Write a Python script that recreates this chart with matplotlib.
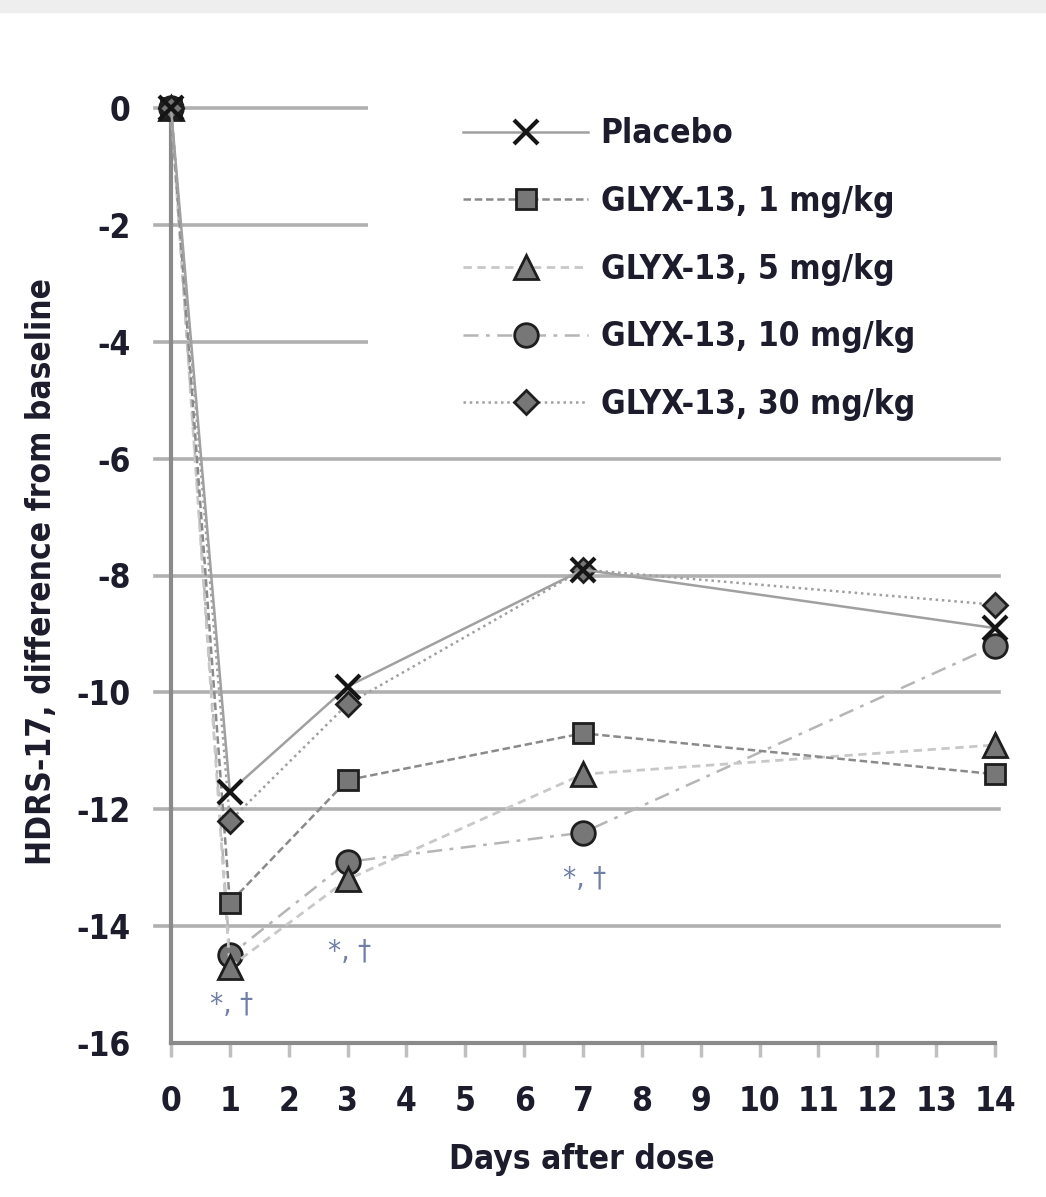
"""HDRS-17 change from baseline after a single GLYX-13 dose."""

import matplotlib
matplotlib.use("Agg")
import matplotlib.pyplot as plt
from matplotlib.patches import Rectangle

days = [0, 1, 3, 7, 14]
placebo = [0, -11.7, -9.9, -7.9, -8.9]
glyx_1 = [0, -13.6, -11.5, -10.7, -11.4]
glyx_5 = [0, -14.7, -13.2, -11.4, -10.9]
glyx_10 = [0, -14.5, -12.9, -12.4, -9.2]
glyx_30 = [0, -12.2, -10.2, -7.9, -8.5]

labels = ["Placebo", "GLYX-13, 1 mg/kg", "GLYX-13, 5 mg/kg",
          "GLYX-13, 10 mg/kg", "GLYX-13, 30 mg/kg"]

sig_days = [1, 3, 7]
sig_y = [-15.35, -14.45, -13.2]
sig_text = "*, \u2020"

x_ticks = list(range(0, 15))
y_ticks = list(range(-16, 1, 2))

FONT = ["DejaVu Sans"]
TXT = "#1c1c2c"
FS = 24
plt.rcParams["font.family"] = FONT
plt.rcParams["font.stretch"] = "condensed"

fig = plt.figure(figsize=(10.46, 11.97), dpi=100)
ax = fig.add_axes([171 / 1046, 1 - 1043 / 1197, 824 / 1046, 935 / 1197])

# grey band at the very top of the page
fig.patches.append(Rectangle((0, 1 - 12 / 1197), 1, 12 / 1197,
                             transform=fig.transFigure, color="#eeeeee", zorder=0))

ax.set_xlim(0, 14)
ax.set_ylim(-16, 0)
for y in y_ticks:
    if y != -16:
        ax.axhline(y, xmin=-0.02, xmax=1.005, color="#b0b0b0", lw=2.6, zorder=1, clip_on=False)

# white block behind the legend hides the upper gridlines
ax.add_patch(Rectangle((3.35, -5.1), 12, 5.6, facecolor="white", edgecolor="none",
                       zorder=2, clip_on=False))

mk = dict(markerfacecolor="#777777", markeredgecolor="#1e1e1e", markeredgewidth=2,
          clip_on=False, zorder=4)
ax.plot(days, glyx_10, color="#b5b5b5", lw=1.8, ls=(0, (6, 3, 1.5, 3)), marker="o", ms=17, label=labels[3], **mk)
ax.plot(days, glyx_5, color="#c8c8c8", lw=2, ls=(0, (3, 2)), marker="^", ms=17, label=labels[2], **mk)
ax.plot(days, glyx_1, color="#8a8a8a", lw=1.8, ls=(0, (3, 1.5)), marker="s", ms=15, label=labels[1], **mk)
ax.plot(days, glyx_30, color="#a0a0a0", lw=1.8, ls=(0, (1, 1.5)), marker="D", ms=12, label=labels[4], **mk)
ax.plot(days, placebo, color="#a0a0a0", lw=1.8, ls="-", marker="x", ms=17,
        markeredgecolor="#151515", markeredgewidth=3, clip_on=False, zorder=5, label=labels[0])

for d, y in zip(sig_days, sig_y):
    ax.text(d + 0.03, y, sig_text, ha="center", va="center", fontsize=21,
            color="#6f7fa6")

handles, lbls = ax.get_legend_handles_labels()
order = [lbls.index(l) for l in labels]
leg = ax.legend([handles[i] for i in order], labels, loc="upper left",
                bbox_to_anchor=(0.318, 1.022), frameon=False,
                handlelength=3.75, handletextpad=0.38, labelspacing=1.04,
                prop=dict(family=FONT, weight="bold", size=FS, stretch="condensed"))
for t in leg.get_texts():
    t.set_color(TXT)
leg.set_zorder(6)

for side in ["top", "right"]:
    ax.spines[side].set_visible(False)
for side in ["left", "bottom"]:
    ax.spines[side].set_color("#8a8a8a")
    ax.spines[side].set_linewidth(3)
    ax.spines[side].set_zorder(3)

ax.set_xticks(x_ticks)
ax.set_yticks(y_ticks)
ax.set_yticklabels([str(v) for v in y_ticks])
ax.tick_params(axis="x", length=10, width=2.5, color="#c0c0c0", pad=20,
               labelsize=FS, labelcolor=TXT)
ax.tick_params(axis="y", length=0, pad=29, labelsize=FS, labelcolor=TXT)
for t in ax.get_xticklabels() + ax.get_yticklabels():
    t.set_fontweight("bold")

ax.set_xlabel("Days after dose", fontsize=FS, fontweight="bold", color=TXT)
ax.set_ylabel("HDRS-17, difference from baseline", fontsize=FS, fontweight="bold", color=TXT)
ax.xaxis.set_label_coords(0.499, -0.125)
ax.yaxis.set_label_coords(-0.157, 0.504)
ax.xaxis.label.set_va("center")
ax.yaxis.label.set_va("center")

fig.savefig("out.png", dpi=100, facecolor="white")
